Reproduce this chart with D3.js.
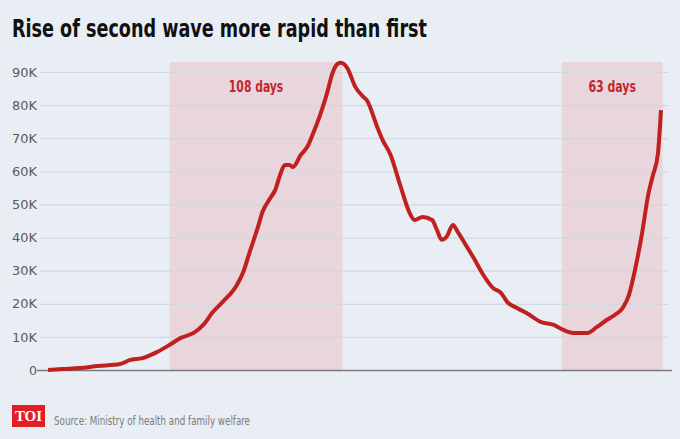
<!DOCTYPE html>
<html><head><meta charset="utf-8">
<script src="https://cdn.jsdelivr.net/npm/d3@7"></script>
<style>
html,body{margin:0;padding:0;background:#e9eef4;}
svg{display:block;}
</style></head>
<body>
<svg id="chart" width="680" height="439"></svg>
<script>
// Day index (from start of series) and 7-day average daily cases (thousands)
const days = [0,9,20,31,45,51,59,68,76,83,91,97,103,109,118,122,126,131,134,139,142,145,148,151,153,158,162,166,170,174,178,181,183,187,192,197,199,206,209,214,220,226,229,234,240,243,246,249,253,256,261,266,272,278,283,287,293,299,308,316,322,328,337,343,349,354,359,363,367,371,375,378,381,383];
const cases = [0,0.3,0.6,1.2,1.8,3.0,3.6,5.4,7.6,9.7,11.2,13.6,17.5,20.5,25.7,29.6,35.6,42.9,47.7,52.0,54.4,58.9,61.9,61.9,61.3,65.0,67.4,71.9,77.0,83.0,90.0,92.5,92.8,91.2,85.5,82.5,81.6,73.0,69.5,65.0,55.9,47.4,45.3,46.2,45.3,42.3,39.3,40.2,43.8,41.7,37.8,33.8,28.7,24.8,23.3,20.5,18.7,17.2,14.5,13.6,12.1,11.2,11.2,13.0,15.1,16.6,18.7,22.7,30.8,40.8,52.9,58.9,65.0,78.5];
const yTicks = [0,10,20,30,40,50,60,70,80,90];
const tickLabels = ["0","10K","20K","30K","40K","50K","60K","70K","80K","90K"];
const spanStart = [76, 321];
const spanEnd = [184, 384];
const spanLabels = ["108 days", "63 days"];
const title = "Rise of second wave more rapid than first";
const source = "Source: Ministry of health and family welfare";

const svg = d3.select("#chart");
const narrow = "'Liberation Sans Narrow','DejaVu Sans Condensed','Roboto Condensed','Arial Narrow',sans-serif";

const x = d3.scaleLinear().domain([0, 383]).range([48, 661]);
const y = d3.scaleLinear().domain([0, 90]).range([370, 72]);

svg.append("rect").attr("width",680).attr("height",439).attr("fill","#e9eef4");

// Title
svg.append("text").attr("x",12).attr("y",37)
  .attr("font-family",narrow).attr("font-weight","bold").attr("font-size",24)
  .attr("textLength",415).attr("lengthAdjust","spacingAndGlyphs")
  .attr("fill","#111").text(title);

// Shaded spans
const spans = d3.range(spanStart.length).map(i => ({s:spanStart[i], e:spanEnd[i], l:spanLabels[i]}));
svg.selectAll("rect.span").data(spans).join("rect").attr("class","span")
  .attr("x", d => x(d.s)).attr("width", d => x(d.e) - x(d.s))
  .attr("y", y(93)).attr("height", y(0) - y(93))
  .attr("fill","#e9d5dc");

// Gridlines
const grid = d3.axisLeft(y).tickValues(yTicks).tickSize(-(668-40)).tickFormat("");
svg.append("g").attr("transform","translate(40,0)").call(grid)
  .call(g => g.select(".domain").remove())
  .call(g => g.selectAll(".tick line").attr("stroke","#d2d8df").attr("stroke-width",1.2));

// Tick labels
const ax = d3.axisLeft(y).tickValues(yTicks).tickSize(0).tickPadding(0)
  .tickFormat((d,i) => tickLabels[i]);
svg.append("g").attr("transform","translate(37,0)").call(ax)
  .call(g => g.select(".domain").remove())
  .call(g => g.selectAll("text").attr("font-family",narrow).attr("font-size",13)
    .attr("fill","#5a5a5a").attr("lengthAdjust","spacingAndGlyphs")
    .attr("textLength", (d,i) => tickLabels[i].length === 1 ? 8 : tickLabels[i].length * 8.3));

// Baseline
svg.append("line").attr("x1",37).attr("x2",672).attr("y1",y(0)+0.5).attr("y2",y(0)+0.5)
  .attr("stroke","#7a7a80").attr("stroke-width",1.6);

// Span labels
svg.selectAll("text.span").data(spans).join("text").attr("class","span")
  .attr("x", d => (x(d.s)+x(d.e))/2).attr("y", 92)
  .attr("text-anchor","middle").attr("font-family",narrow).attr("font-weight","bold")
  .attr("font-size",15.5).attr("fill","#c4262e")
  .attr("lengthAdjust","spacingAndGlyphs").attr("textLength", d => d.l.length * 6.8)
  .text(d => d.l);

// Line
const pts = days.map((d,i) => [d, cases[i]]);
const line = d3.line().x(d => x(d[0])).y(d => y(d[1])).curve(d3.curveMonotoneX);
svg.append("path").datum(pts).attr("d", line).attr("fill","none")
  .attr("stroke","#c0201f").attr("stroke-width",4).attr("stroke-linejoin","round").attr("stroke-linecap","butt");

// Footer
svg.append("rect").attr("x",12).attr("y",405).attr("width",33).attr("height",22).attr("fill","#e31e24");
svg.append("text").attr("x",28.5).attr("y",421).attr("text-anchor","middle")
  .attr("font-family","'Liberation Serif','DejaVu Serif',serif").attr("font-weight","bold")
  .attr("font-size",15).attr("fill","#fff").text("TOI");
svg.append("text").attr("x",54).attr("y",425).attr("font-family",narrow)
  .attr("font-size",12.5).attr("textLength",196).attr("lengthAdjust","spacingAndGlyphs")
  .attr("fill","#7a7a7a").text(source);
</script>
</body></html>
